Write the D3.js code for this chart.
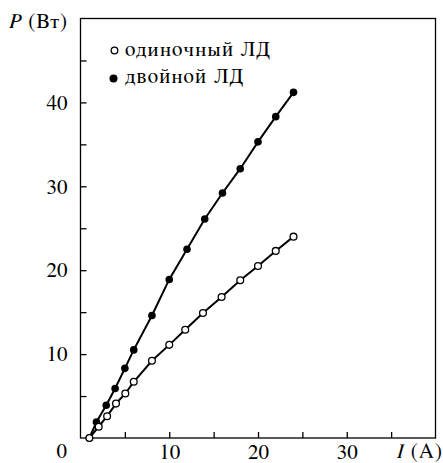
<!DOCTYPE html>
<html>
<head>
<meta charset="utf-8">
<script src="https://cdn.jsdelivr.net/npm/d3@7"></script>
<style>
  body { margin: 0; background: #fff; }
  svg text { font-family: FreeSerif, "Liberation Serif", "Times New Roman", serif; fill: #000; }
</style>
</head>
<body>
<div id="container"></div>
<script>
let width = 443;
let height = 463;
let serif = 'FreeSerif, "Liberation Serif", "Times New Roman", serif';

// data
let singleI = [1, 2.05, 3, 4, 5.05, 6, 8.05, 10, 11.8, 13.8, 15.9, 18, 20, 22, 24];
let singleP = [0, 1.35, 2.6, 4.1, 5.3, 6.7, 9.2, 11.1, 12.9, 14.9, 16.8, 18.8, 20.5, 22.3, 24.0];
let doubleI = [1, 1.8, 2.9, 3.9, 5, 6, 8.05, 10, 12, 14, 16, 18, 20, 22, 24];
let doubleP = [0, 1.9, 3.9, 5.9, 8.3, 10.5, 14.6, 18.9, 22.5, 26.1, 29.2, 32.1, 35.3, 38.3, 41.2];
let legendLabels = ["одиночный ЛД", "двойной ЛД"];
let xTicks = [5, 10, 15, 20, 25, 30, 35];
let yTicks = [5, 10, 15, 20, 25, 30, 35, 40, 45];
let xLabelled = [10, 20, 30];
let yLabelled = [10, 20, 30, 40];

let mLeft = 80.5, mRight = 435.5, mTop = 18.5, mBottom = 438;

let x = d3.scaleLinear().domain([0, 40]).range([mLeft, mRight]);
let y = d3.scaleLinear().domain([0, 50]).range([mBottom, mTop]);

let svg = d3.select("#container")
  .append("svg")
  .attr("width", width)
  .attr("height", height);

// frame
svg.append("rect")
  .attr("x", mLeft).attr("y", mTop)
  .attr("width", mRight - mLeft).attr("height", mBottom - mTop)
  .attr("fill", "none").attr("stroke", "#000").attr("stroke-width", 1.3);

let yAxis = svg.append("g")
  .attr("transform", `translate(${mLeft},0)`)
  .call(d3.axisLeft(y).tickValues(yTicks).tickSize(-6).tickPadding(13)
    .tickFormat(d => yLabelled.includes(d) ? d : ""));
let xAxis = svg.append("g")
  .attr("transform", `translate(0,${mBottom})`)
  .call(d3.axisBottom(x).tickValues(xTicks).tickSize(-6).tickPadding(6)
    .tickFormat(d => xLabelled.includes(d) ? d : ""));

[xAxis, yAxis].forEach(a => {
  a.attr("font-family", null).attr("font-size", null);
  a.select(".domain").remove();
  a.selectAll("line").attr("stroke", "#000").attr("stroke-width", 1.3);
  a.selectAll("text").style("font-size", "21px").style("font-family", serif);
});

// shared origin label
svg.append("text").attr("x", 67).attr("y", 458).attr("text-anchor", "end")
  .style("font-size", "21px").text("0");

// axis titles
let yt = svg.append("text").attr("x", 68).attr("y", 28).attr("text-anchor", "end")
  .style("font-size", "21px").style("letter-spacing", "1px");
yt.append("tspan").style("font-style", "italic").text("P");
yt.append("tspan").text(" (Вт)");
let xt = svg.append("text").attr("x", 443).attr("y", 458).attr("text-anchor", "end")
  .style("font-size", "21px").style("letter-spacing", "1px");
xt.append("tspan").style("font-style", "italic").text("I");
xt.append("tspan").text(" (A)");

let line = d3.line().x(d => x(d[0])).y(d => y(d[1]));
let single = singleI.map((v, i) => [v, singleP[i]]);
let dbl = doubleI.map((v, i) => [v, doubleP[i]]);

[dbl, single].forEach(s => {
  svg.append("path").datum(s).attr("d", line)
    .attr("fill", "none").attr("stroke", "#000").attr("stroke-width", 2);
});

svg.selectAll("circle.dbl").data(dbl).enter().append("circle")
  .attr("class", "dbl")
  .attr("cx", d => x(d[0])).attr("cy", d => y(d[1])).attr("r", 3.8)
  .attr("fill", "#000");

svg.selectAll("circle.sgl").data(single).enter().append("circle")
  .attr("class", "sgl")
  .attr("cx", d => x(d[0])).attr("cy", d => y(d[1])).attr("r", 3.4)
  .attr("fill", "#fff").attr("stroke", "#000").attr("stroke-width", 1.3);

// legend
svg.append("circle").attr("cx", 114.5).attr("cy", 50.5).attr("r", 3.3)
  .attr("fill", "#fff").attr("stroke", "#000").attr("stroke-width", 1.3);
svg.append("circle").attr("cx", 113.5).attr("cy", 78.5).attr("r", 4)
  .attr("fill", "#000");
svg.append("text").attr("x", 125).attr("y", 56).style("font-size", "21px")
  .style("letter-spacing", "1.3px").text(legendLabels[0]);
svg.append("text").attr("x", 125).attr("y", 82.5).style("font-size", "21px")
  .style("letter-spacing", "1.3px").text(legendLabels[1]);
</script>
</body>
</html>
